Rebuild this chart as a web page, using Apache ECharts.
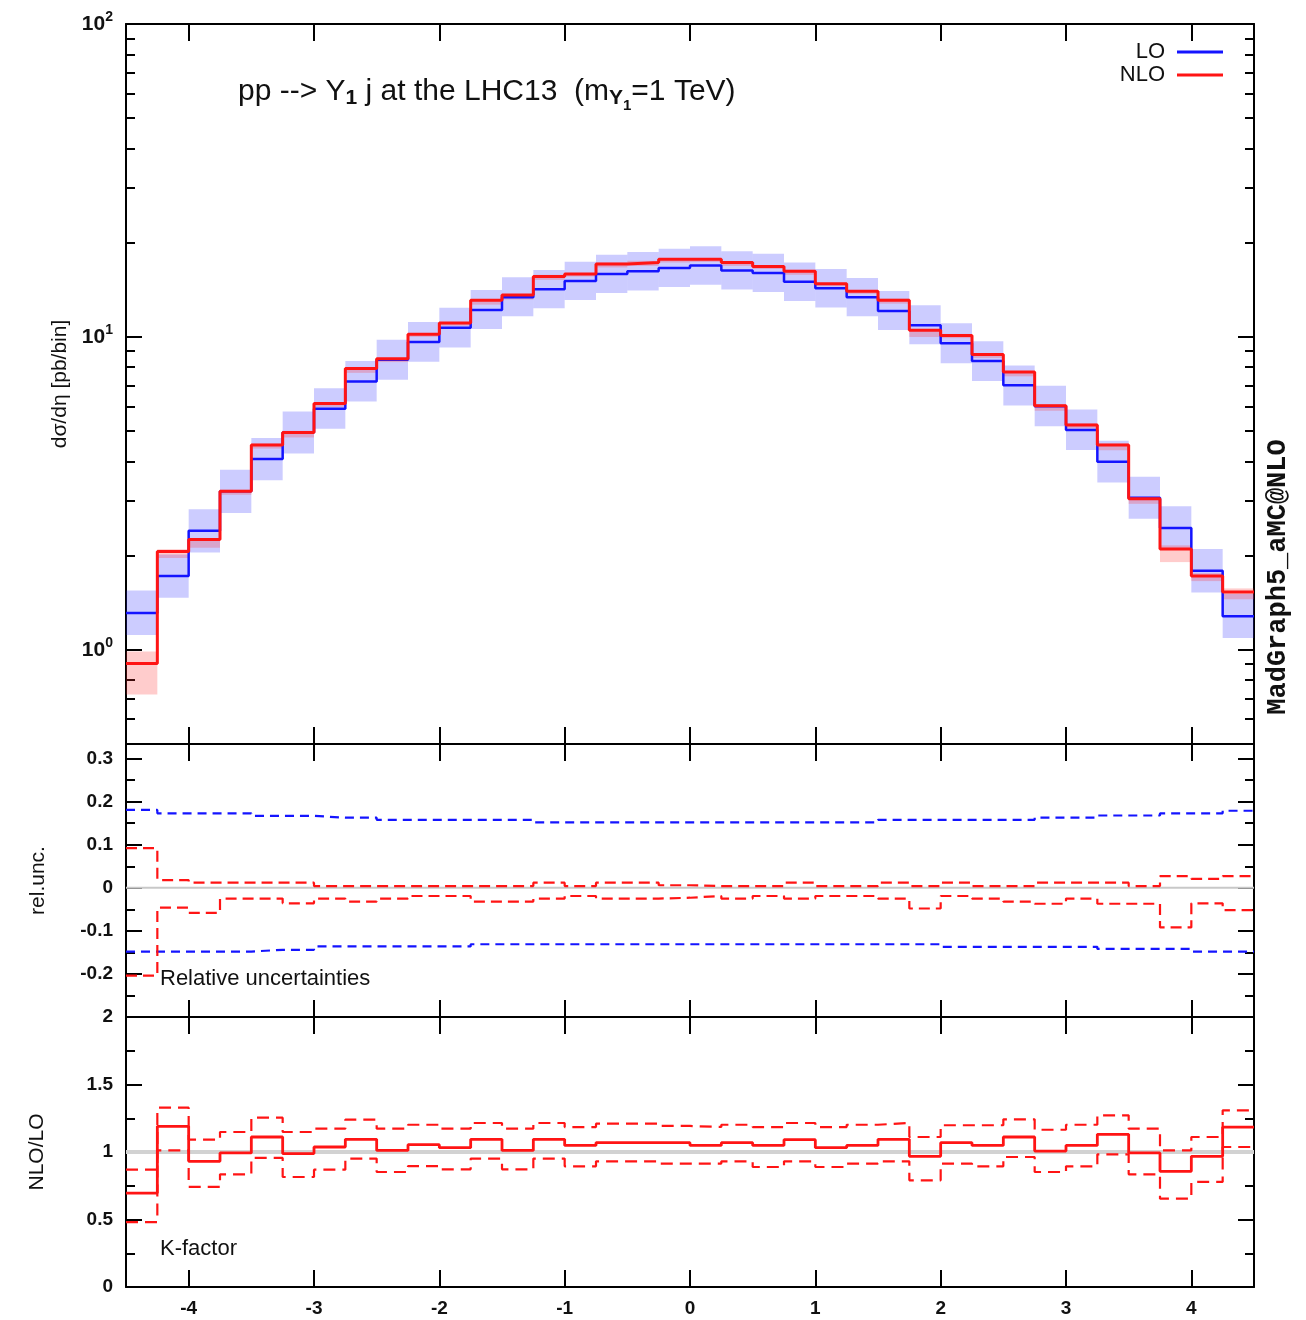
<!DOCTYPE html>
<html><head><meta charset="utf-8">
<script src="https://cdn.jsdelivr.net/npm/echarts@6/dist/echarts.min.js"></script>
<style>html,body{margin:0;padding:0;background:#fff}#c{width:1306px;height:1320px}</style>
</head><body><div id="c"></div><script>
// ---------------- data ----------------
const xEdges = [-4.5,-4.25,-4,-3.75,-3.5,-3.25,-3,-2.75,-2.5,-2.25,-2,-1.75,-1.5,-1.25,-1,-0.75,-0.5,-0.25,0,0.25,0.5,0.75,1,1.25,1.5,1.75,2,2.25,2.5,2.75,3,3.25,3.5,3.75,4,4.25,4.5];
const loXsec  = [1.31,1.72,2.40,3.21,4.07,4.95,5.89,7.20,8.45,9.64,10.7,12.2,13.4,14.2,15.1,15.9,16.2,16.6,16.9,16.3,16.0,15.0,14.3,13.4,12.1,10.9,9.55,8.37,7.00,6.00,5.04,3.99,3.06,2.45,1.79,1.28];
const nloXsec = [0.904,2.06,2.25,3.21,4.51,4.95,6.13,7.93,8.52,10.2,11.07,13.1,13.6,15.6,15.9,17.1,17.3,17.7,17.7,17.3,16.8,16.2,14.8,14.0,13.1,10.5,10.1,8.79,7.73,6.03,5.23,4.51,3.04,2.10,1.72,1.53];
const loRelUp   = [0.181,0.173,0.173,0.173,0.167,0.167,0.163,0.163,0.158,0.158,0.158,0.158,0.158,0.152,0.152,0.152,0.152,0.152,0.152,0.152,0.152,0.152,0.152,0.152,0.158,0.158,0.158,0.158,0.158,0.163,0.163,0.168,0.168,0.173,0.173,0.179];
const loRelDown = [-0.148,-0.148,-0.148,-0.148,-0.144,-0.144,-0.136,-0.136,-0.136,-0.136,-0.136,-0.131,-0.131,-0.131,-0.131,-0.131,-0.131,-0.131,-0.131,-0.131,-0.131,-0.131,-0.131,-0.131,-0.131,-0.131,-0.137,-0.137,-0.137,-0.137,-0.137,-0.142,-0.142,-0.142,-0.148,-0.148];
const nloRelUp   = [0.092,0.018,0.012,0.012,0.012,0.012,0.004,0.004,0.004,0.004,0.004,0.004,0.004,0.012,0.004,0.012,0.012,0.006,0.004,0.004,0.004,0.012,0.004,0.004,0.012,0.004,0.012,0.004,0.004,0.012,0.012,0.012,0.004,0.027,0.021,0.027];
const nloRelDown = [-0.204,-0.046,-0.058,-0.025,-0.025,-0.036,-0.025,-0.032,-0.025,-0.019,-0.019,-0.032,-0.032,-0.025,-0.019,-0.025,-0.025,-0.023,-0.019,-0.025,-0.019,-0.025,-0.019,-0.019,-0.025,-0.048,-0.019,-0.025,-0.032,-0.037,-0.025,-0.037,-0.037,-0.092,-0.036,-0.052];
const kFactor     = [0.696,1.19,0.931,0.993,1.111,0.988,1.037,1.094,1.012,1.054,1.032,1.094,1.012,1.094,1.049,1.069,1.069,1.069,1.049,1.069,1.049,1.091,1.032,1.049,1.094,0.968,1.069,1.049,1.111,1.007,1.049,1.131,0.993,0.857,0.968,1.185];
const kFactorUp   = [0.869,1.328,1.091,1.148,1.254,1.148,1.173,1.240,1.173,1.202,1.173,1.215,1.173,1.215,1.185,1.210,1.210,1.193,1.185,1.202,1.185,1.215,1.185,1.202,1.215,1.111,1.198,1.198,1.242,1.165,1.202,1.272,1.173,1.012,1.111,1.309];
const kFactorDown = [0.481,1.012,0.741,0.835,0.956,0.815,0.869,0.951,0.852,0.896,0.872,0.951,0.872,0.951,0.894,0.931,0.931,0.914,0.914,0.931,0.889,0.931,0.889,0.914,0.931,0.790,0.914,0.894,0.963,0.852,0.894,0.983,0.835,0.654,0.778,1.037];
const xTicks = [-4,-3,-2,-1,0,1,2,3,4];
const mainTicks = [1,10,100];
const mainMinorTicks = [0.6,0.7,0.8,0.9,2,3,4,5,6,7,8,9,20,30,40,50,60,70,80,90];
const relTicks = [-0.2,-0.1,0,0.1,0.2,0.3];
const relMinorTicks = [-0.25,-0.15,-0.05,0.05,0.15,0.25];
const kTicks = [0,0.5,1,1.5,2];
const kMinorTicks = [0.25,0.75,1.25,1.75];
const relRefLine = 0;
const kRefLine = 1;

// ---------------- helpers ----------------
const FONT = "'Liberation Sans', Arial, Helvetica, sans-serif";
const X0 = xEdges[0], X1 = xEdges[xEdges.length-1];
function steps(vals){ const d = vals.map((v,i)=>[xEdges[i], v]); d.push([X1, vals[vals.length-1]]); return d; }
function bandData(center, up, down){ return center.map((c,i)=>[xEdges[i], xEdges[i+1], c*(1+up[i]), c*(1+down[i])]); }
function bandSeries(data, color, xi, yi){
  return {type:'custom', xAxisIndex:xi, yAxisIndex:yi, silent:true, data:data, encode:{x:[0,1], y:[2,3]},
    renderItem:function(params, api){
      const p1 = api.coord([api.value(0), api.value(2)]);
      const p2 = api.coord([api.value(1), api.value(3)]);
      return {type:'rect', shape:{x:p1[0], y:p1[1], width:p2[0]-p1[0], height:p2[1]-p1[1]}, style:{fill:color}};
    }};
}
function stepLine(name, vals, color, width, dash, xi, yi){
  return {type:'line', name:name, xAxisIndex:xi, yAxisIndex:yi, step:'end', data:steps(vals), symbol:'none',
    color:color, lineStyle:{color:color, width:width, type:dash||'solid'}, silent:true, z:3};
}
function refLine(v, color, width, xi, yi){
  return {type:'line', xAxisIndex:xi, yAxisIndex:yi, data:[[X0,v],[X1,v]], symbol:'none', silent:true,
    lineStyle:{color:color, width:width}, z:1};
}
const grids = [
  {left:126, top:24, width:1128, height:720},
  {left:126, top:744, width:1128, height:273},
  {left:126, top:1017, width:1128, height:270}
];
const xAxes = [];
grids.forEach((g,gi)=>{
  ['bottom','top'].forEach(pos=>{
    const labels = (gi===2 && pos==='bottom');
    xAxes.push({type:'value', gridIndex:gi, position:pos, min:X0, max:X1,
      axisLine:{show:true, onZero:false, lineStyle:{color:'#000', width:2}},
      axisTick:{show:true, inside:true, length:17, customValues:xTicks, lineStyle:{color:'#000', width:2}},
      axisLabel:{show:labels, customValues:xTicks, margin:12, color:'#111', fontSize:19, fontWeight:'bold', fontFamily:FONT, formatter:v=>String(v)},
      splitLine:{show:false}});
  });
});
const yAxes = [];
function addY(gi, type, min, max, ticks, minor, labelFmt, name, nameGap){
  ['left','right'].forEach(pos=>{
    yAxes.push({type:type, logBase:10, gridIndex:gi, position:pos, min:min, max:max,
      name: pos==='left' ? name : '', nameLocation:'middle', nameRotate:90, nameGap:nameGap,
      nameTextStyle:{color:'#111', fontSize:21, fontFamily:FONT},
      axisLine:{show:true, onZero:false, lineStyle:{color:'#000', width:2}},
      axisTick:{show:true, inside:true, length:16, customValues:ticks, lineStyle:{color:'#000', width:2}},
      axisLabel:{show:pos==='left', customValues:ticks, margin:13, color:'#111', fontSize:19, fontWeight:'bold', fontFamily:FONT, formatter:labelFmt,
        rich:{b:{fontSize:21, fontWeight:'bold', fontFamily:FONT, color:'#111'}, s:{fontSize:14, fontWeight:'bold', fontFamily:FONT, color:'#111', padding:[0,0,14,0]}}},
      splitLine:{show:false}});
  });
  ['left','right'].forEach(pos=>{
    yAxes.push({type:type, logBase:10, gridIndex:gi, position:pos, min:min, max:max,
      axisLine:{show:false, onZero:false}, axisLabel:{show:false}, splitLine:{show:false},
      axisTick:{show:true, inside:true, length:9, customValues:minor, lineStyle:{color:'#000', width:2}}});
  });
}
addY(0, 'log', 0.5, 100, mainTicks, mainMinorTicks, v=>'{b|10}{s|'+Math.round(Math.log10(v))+'}', 'dσ/dη [pb/bin]', 52);
addY(1, 'value', -0.3, 0.334, relTicks, relMinorTicks, v=>String(Math.round(v*10)/10), 'rel.unc.', 77);
addY(2, 'value', 0, 2, kTicks, kMinorTicks, v=>String(Math.round(v*10)/10), 'NLO/LO', 78);

const BLUE = '#1414ff', RED = '#ff1414';
const series = [
  bandSeries(bandData(loXsec, loRelUp, loRelDown), 'rgba(40,40,255,0.24)', 0, 0),
  bandSeries(bandData(nloXsec, nloRelUp, nloRelDown), 'rgba(255,40,40,0.24)', 0, 0),
  stepLine('LO', loXsec, BLUE, 2.5, null, 0, 0),
  stepLine('NLO', nloXsec, RED, 3, null, 0, 0),
  refLine(relRefLine, '#c8c8c8', 2, 2, 4),
  stepLine('', loRelUp, BLUE, 2.2, [9,6], 2, 4),
  stepLine('', loRelDown, BLUE, 2.2, [9,6], 2, 4),
  stepLine('', nloRelUp, RED, 2.2, [11,6], 2, 4),
  stepLine('', nloRelDown, RED, 2.2, [11,6], 2, 4),
  refLine(kRefLine, '#d2d2d2', 4, 4, 8),
  stepLine('', kFactor, RED, 2.8, null, 4, 8),
  stepLine('', kFactorUp, RED, 2.2, [12,7], 4, 8),
  stepLine('', kFactorDown, RED, 2.2, [12,7], 4, 8)
];

const chart = echarts.init(document.getElementById('c'), null, {renderer:'canvas'});
chart.setOption({
  animation:false,
  backgroundColor:'#fff',
  title:{left:233, top:65,
    text:'{n|pp --> Y}{s|1}{n| j at the LHC13  (m}{s|Y}{ss|1}{n|=1 TeV)}',
    textStyle:{fontWeight:'normal', rich:{
      n:{fontSize:30, fontWeight:'normal', fontFamily:FONT, color:'#111'},
      s:{fontSize:21, fontWeight:'bold', fontFamily:FONT, color:'#111', padding:[14,0,0,0]},
      ss:{fontSize:15, fontWeight:'bold', fontFamily:FONT, color:'#111', padding:[28,0,0,0]}
    }}},
  legend:{data:['LO','NLO'], orient:'vertical', right:78, top:36, align:'right', icon:'rect',
    itemWidth:46, itemHeight:3, itemGap:1, selectedMode:false,
    textStyle:{fontSize:22, fontFamily:FONT, color:'#111', padding:[0,7,0,0]}},
  grid:grids, xAxis:xAxes, yAxis:yAxes, series:series,
  graphic:[
    {type:'text', left:160, top:968, style:{text:'Relative uncertainties', fontSize:22, fontFamily:FONT, fill:'#111'}},
    {type:'text', left:160, top:1238, style:{text:'K-factor', fontSize:22, fontFamily:FONT, fill:'#111'}},
    {type:'text', x:1278, y:577, rotation:Math.PI/2,
      style:{text:'MadGraph5_aMC@NLO', fontSize:27, fontWeight:'bold', fontFamily:"'Liberation Mono', 'DejaVu Sans Mono', monospace", fill:'#111', align:'center', verticalAlign:'middle'}}
  ]
});
</script></body></html>
